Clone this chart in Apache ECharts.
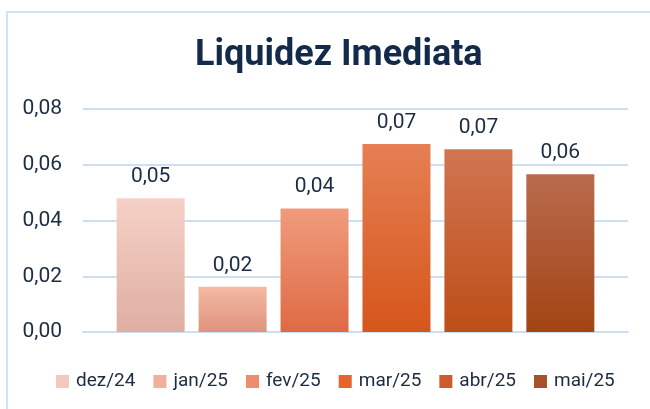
<!doctype html>
<html lang="pt">
<head>
    <meta charset="UTF-8">
    <title>Liquidez Imediata</title>
    <script src="https://cdn.jsdelivr.net/npm/echarts@6/dist/echarts.min.js"></script>
    <style>
        html, body { margin: 0; padding: 0; background: #fff; }
        #main { width: 650px; height: 409px; }
    </style>
</head>
<body>
<div id="main"></div>
<script>
    // dados
    var periodos = ['dez/24', 'jan/25', 'fev/25', 'mar/25', 'abr/25', 'mai/25'];
    var valores = [0.048, 0.0162, 0.0443, 0.0674, 0.0656, 0.0566];
    var eixoY = { min: 0, max: 0.08, interval: 0.02 };

    // cores (topo, base, legenda) de cada série
    var cores = [
        ['#f6d1c7', '#dfaea2', '#f3c8bd'],
        ['#f4b9a4', '#df927d', '#f2b09c'],
        ['#ef9c7c', '#df6a45', '#ee8c6b'],
        ['#e67f54', '#d5561a', '#e5652a'],
        ['#d17552', '#bd4e17', '#cd5c2a'],
        ['#b96b4e', '#a34413', '#a8502a']
    ];

    var texto = '#1c2c42';
    function fmt(v) { return v.toFixed(2).replace('.', ','); }

    var series = periodos.map(function (nome, i) {
        return {
            name: nome,
            type: 'bar',
            barWidth: 68,
            barGap: '20.5%',
            data: [valores[i]],
            itemStyle: {
                color: new echarts.graphic.LinearGradient(0, 0, 0, 1, [
                    { offset: 0, color: cores[i][0] },
                    { offset: 1, color: cores[i][1] }
                ])
            },
            label: {
                show: true,
                position: 'top',
                distance: 11,
                color: texto,
                fontFamily: 'Roboto',
                fontSize: 21,
                formatter: function (p) { return fmt(p.value); }
            }
        };
    });

    var chart = echarts.init(document.getElementById('main'));
    chart.setOption({
        animation: false,
        backgroundColor: '#fff',
        title: {
            text: 'Liquidez Imediata',
            left: 190,
            top: 33,
            textStyle: {
                color: '#132a4a',
                fontFamily: 'Roboto',
                fontWeight: 'bold',
                fontSize: 36
            }
        },
        legend: {
            bottom: 13,
            left: 51,
            itemWidth: 13,
            itemHeight: 13,
            itemGap: 18,
            icon: 'rect',
            textStyle: { color: texto, fontFamily: 'Roboto', fontSize: 19, padding: [0, 0, 0, 2] },
            data: periodos.map(function (nome, i) {
                return { name: nome, itemStyle: { color: cores[i][2] } };
            })
        },
        grid: { left: 83, right: 22, top: 109, bottom: 77 },
        xAxis: {
            type: 'category',
            data: [''],
            axisLine: { show: true, lineStyle: { color: '#cddff2', width: 2 } },
            axisTick: { show: false },
            axisLabel: { show: false }
        },
        yAxis: {
            type: 'value',
            min: eixoY.min,
            max: eixoY.max,
            interval: eixoY.interval,
            axisLine: { show: false },
            axisTick: { show: false },
            axisLabel: {
                color: texto,
                fontFamily: 'Roboto',
                fontSize: 21,
                margin: 21,
                formatter: fmt
            },
            splitLine: { lineStyle: { color: '#cddff2', width: 2 } }
        },
        graphic: [{
            type: 'rect',
            shape: { x: 7, y: 12, width: 700, height: 500 },
            style: { fill: 'none', stroke: '#d3e3f4', lineWidth: 2 }
        }],
        series: series
    });
</script>
</body>
</html>
